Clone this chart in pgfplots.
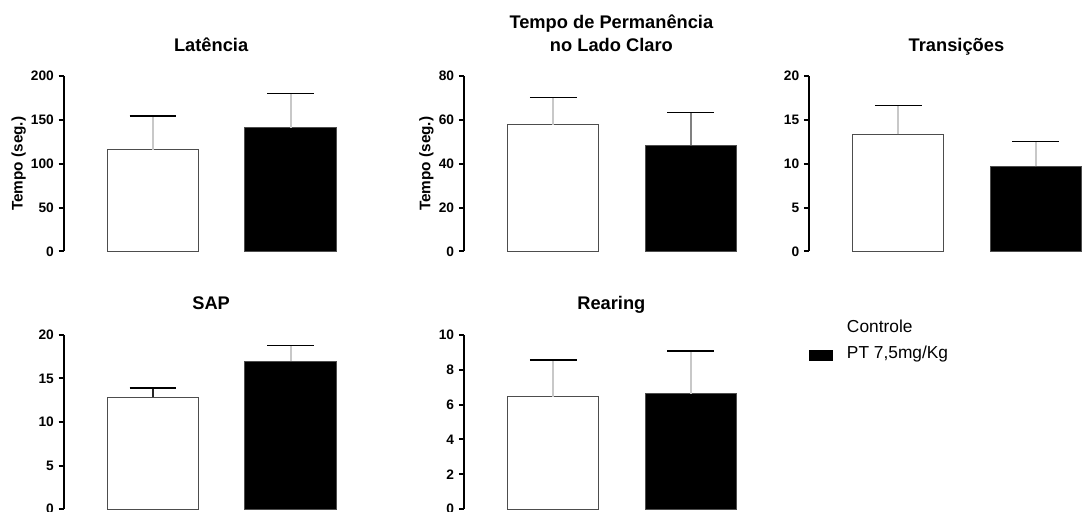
\documentclass[border=0pt]{standalone}
\usepackage{fontspec}
\setmainfont{Liberation Sans}
\usepackage{pgfplots}
\pgfplotsset{compat=1.18}

\definecolor{barline}{HTML}{4D4D4D}
\definecolor{stemlight}{HTML}{C8C8C8}
\definecolor{stemmid}{HTML}{808080}

\pgfplotsset{
  panel/.style={
    scale only axis, width=207pt, height=131.6pt,
    xmin=0, xmax=276, ymin=0,
    axis y line*=left, axis x line=none,
    axis line style={line width=1.5pt, black},
    tick align=outside, major tick length=4.1pt,
    ytick style={line width=1.5pt, black},
    /pgf/number format/assume math mode=true,
    yticklabel style={font=\bfseries\fontsize{10.3}{12}\selectfont},
    ylabel style={font=\bfseries\fontsize{11.5}{13}\selectfont},
    ylabel shift=-3pt,
    title style={font=\bfseries\fontsize{13.7}{17.3}\selectfont,
      at={(axis description cs:0.533,1)}, anchor=base, yshift=12.6pt, align=center},
    clip=false,
    legend image code/.code={\fill[##1, draw=none] (0pt,-6pt) rectangle (17.8pt,2.3pt);},
  },
  stem/.style={/pgfplots/error bars/error bar style={#1}},
  ctrl/.style={ybar, bar width=91.3, bar shift=0pt, fill=white, draw=barline, line width=0.75pt,
    /pgfplots/error bars/y dir=plus, /pgfplots/error bars/y explicit,
    /pgfplots/error bars/error bar style={line width=1.5pt, stemlight},
    /pgfplots/error bars/error mark options={rotate=90, black, line width=1.1pt, mark size=17.6pt}},
  trt/.style={ybar, bar width=91.3, bar shift=0pt, fill=black, draw=barline, line width=0.75pt,
    /pgfplots/error bars/y dir=plus, /pgfplots/error bars/y explicit,
    /pgfplots/error bars/error bar style={line width=1.5pt, stemlight},
    /pgfplots/error bars/error mark options={rotate=90, black, line width=1.1pt, mark size=17.6pt}},
}

\begin{document}
\begin{tikzpicture}
\useasboundingbox (0,0) rectangle (811.5pt,383.25pt);

% Latencia
\begin{axis}[panel, at={(48pt,194.625pt)}, anchor=south west, height=131.6pt,
  ymax=200, ytick={0,50,100,150,200}, title={Latência}, ylabel={Tempo (seg.)}]
\addplot[ctrl] coordinates {(89,115.7) +- (0,38.7)};
\addplot[trt] coordinates {(226.5,141.1) +- (0,39.2)};
\end{axis}

% Tempo de permanencia no lado claro
\begin{axis}[panel, at={(348.2pt,194.625pt)}, anchor=south west, height=131.6pt,
  ymax=80, ytick={0,20,40,60,80}, title={Tempo de Permanência\\no Lado Claro}, ylabel={Tempo (seg.)}]
\addplot[ctrl] coordinates {(89,57.8) +- (0,12.5)};
\addplot[trt, stem=stemmid] coordinates {(226.5,48.5) +- (0,14.9)};
\end{axis}

% Transicoes
\begin{axis}[panel, at={(607pt,194.625pt)}, anchor=south west, height=131.6pt,
  ymax=20, ytick={0,5,10,15,20}, title={Transições}]
\addplot[ctrl] coordinates {(89,13.36) +- (0,3.3)};
\addplot[trt] coordinates {(226.5,9.71) +- (0,2.85)};
\end{axis}

% SAP
\begin{axis}[panel, at={(48pt,1.3pt)}, anchor=south west, height=130.9pt,
  ymax=20, ytick={0,5,10,15,20}, title={SAP}]
\addplot[ctrl, stem={black!85, line width=1.1pt}] coordinates {(89,12.85) +- (0,1.03)};
\addplot[trt] coordinates {(226.5,16.98) +- (0,1.79)};
\end{axis}

% Rearing
\begin{axis}[panel, at={(348.2pt,1.3pt)}, anchor=south west, height=130.9pt,
  ymax=10, ytick={0,2,4,6,8,10}, title={Rearing},
  legend style={at={(axis description cs:1.249,1.10)}, anchor=north west,
    draw=none, fill=none, inner sep=0pt, font=\fontsize{13}{15}\selectfont,
    row sep=4.5pt,
    /tikz/every odd column/.append style={column sep=8.5pt}},
  legend cell align=left]
\addplot[ctrl] coordinates {(89,6.45) +- (0,2.11)};
\addlegendentry{Controle}
\addplot[trt] coordinates {(226.5,6.62) +- (0,2.45)};
\addlegendentry{PT 7,5mg/Kg}
\end{axis}
\end{tikzpicture}
\end{document}
